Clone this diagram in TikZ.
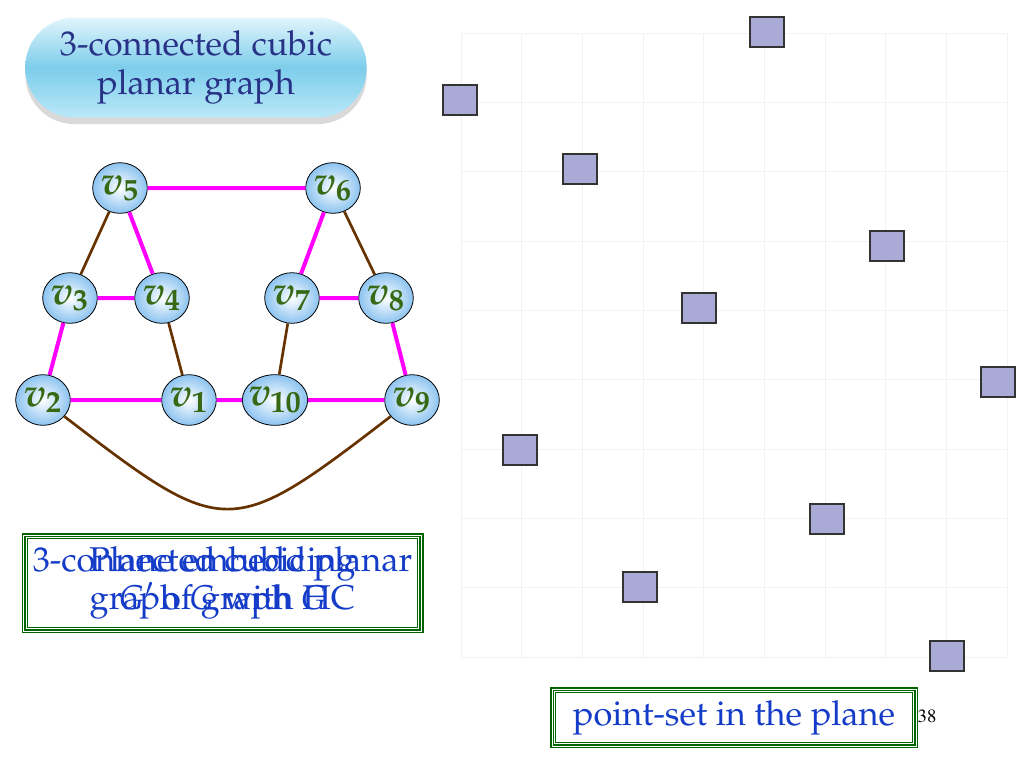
\documentclass[tikz,border=0pt]{standalone}
\usepackage[T1]{fontenc}
\usepackage{mathpazo}
\usetikzlibrary{shapes.geometric,shadows}
\definecolor{hcpink}{RGB}{255,0,255}
\definecolor{brn}{RGB}{102,51,0}
\definecolor{ballblue}{RGB}{140,195,240}
\definecolor{vgreen}{RGB}{55,105,20}
\definecolor{frameg}{RGB}{0,100,0}
\definecolor{tblue}{RGB}{20,60,200}
\definecolor{navy}{RGB}{40,50,135}
\definecolor{sqfill}{RGB}{170,170,215}
\definecolor{gridc}{RGB}{242,242,246}

\begin{document}
\begin{tikzpicture}[x=0.75pt, y=-0.75pt,
  vtx/.style={ellipse, draw, line width=0.6pt, inner sep=0pt, minimum width=41pt, minimum height=38pt,
    inner color=white, outer color=ballblue, text=vgreen, font=\fontsize{30}{30}\selectfont\boldmath},
  hc/.style={hcpink, line width=3pt},
  nhc/.style={brn, line width=2pt},
  frame/.style={draw=frameg, line width=1.4pt, double=white, double distance=0.7pt, fill=white,
    align=center, text=tblue, font=\fontsize{25.8}{29}\selectfont},
  spot/.style={draw=black!80, line width=1.3pt, fill=sqfill, minimum width=26pt, minimum height=23pt, inner sep=0pt}]
\useasboundingbox (0,0) rectangle (1024,768);

% title
\node[rounded corners=37pt, minimum width=256pt, minimum height=75pt,
  top color={rgb,255:red,225;green,245;blue,252}, bottom color={rgb,255:red,185;green,232;blue,248},
  middle color={rgb,255:red,125;green,205;blue,235},
  drop shadow={shadow xshift=0pt, shadow yshift=-5pt, opacity=.3, fill=gray},
  align=center, text=navy, font=\fontsize{25.8}{29}\selectfont] (ttl) at (196,67.5) {3-connected cubic\\planar graph};

% graph
\node[vtx] (v5) at (120,188) {$v_5$};
\node[vtx] (v6) at (333,188) {$v_6$};
\node[vtx] (v3) at (70,298) {$v_3$};
\node[vtx] (v4) at (162,298) {$v_4$};
\node[vtx] (v7) at (292,298) {$v_7$};
\node[vtx] (v8) at (386,298) {$v_8$};
\node[vtx] (v2) at (43,400) {$v_2$};
\node[vtx] (v1) at (189,400) {$v_1$};
\node[vtx, inner xsep=-2.5pt] (v10) at (275,400) {$v_{10}$};
\node[vtx] (v9) at (412,400) {$v_9$};

\draw[hc] (v5)--(v6) (v5)--(v4) (v3)--(v4) (v3)--(v2) (v2)--(v1) (v1)--(v10) (v10)--(v9) (v9)--(v8) (v8)--(v7) (v7)--(v6);
\draw[nhc] (v5)--(v3) (v4)--(v1) (v7)--(v10) (v6)--(v8);
\draw[nhc] (v2) .. controls (225,540) and (230,540) .. (v9);

% captions
\node[frame, minimum width=298pt, minimum height=72pt] (emb) at (222.5,583) {3-connected cubic planar\\graph $G$ with HC};
\draw[frameg, line width=0.8pt] ([xshift=3.5pt,yshift=-3.5pt]emb.north west) rectangle ([xshift=-3.5pt,yshift=3.5pt]emb.south east);
\node[align=center, text=tblue, font=\fontsize{25.8}{29}\selectfont] (emb2) at (emb) {Plane embedding\\$G'$ of graph $G$};

% point set
\foreach \i in {0,...,9}
{
    \draw[gridc] (461+60.67*\i,33)--(461+60.67*\i,657);
    \draw[gridc] (461,33+69.33*\i)--(1007,33+69.33*\i);
}
\foreach \x/\y [count=\n] in {767/32,460/100,580/169,887/246,699/308,998/382,520/450,827/519,640/587,947/656}
{
    \node[spot] (p\n) at (\x,\y) {};
}

\node[frame, minimum width=273pt, minimum height=42.75pt] (ps) at (734,717.5) {point-set in the plane};
\draw[frameg, line width=0.8pt] ([xshift=3.5pt,yshift=-3.5pt]ps.north west) rectangle ([xshift=-3.5pt,yshift=3.5pt]ps.south east);
\node[font=\fontfamily{ptm}\fontsize{14}{14}\selectfont] (pg) at (927,716) {38};

\end{tikzpicture}
\end{document}
